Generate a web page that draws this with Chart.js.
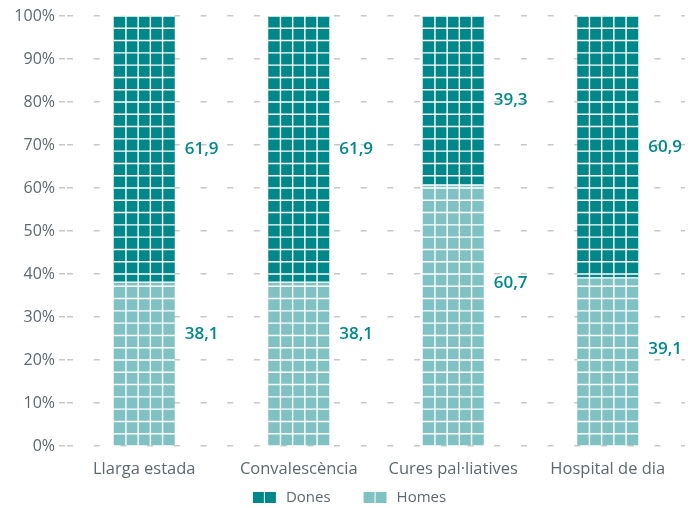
<!DOCTYPE html>
<html>
<head>
<meta charset="utf-8">
<script src="https://cdn.jsdelivr.net/npm/chart.js@4.4.1/dist/chart.umd.min.js"></script>
<style>
  html, body { margin: 0; padding: 0; background: #fff; }
</style>
</head>
<body>
<canvas id="myChart" width="693" height="508"></canvas>
<script>
var categories = ["Llarga estada", "Convalescència", "Cures pal·liatives", "Hospital de dia"];
var dones = [61.9, 61.9, 39.3, 60.9];
var homes = [38.1, 38.1, 60.7, 39.1];
var yTicks = [0, 10, 20, 30, 40, 50, 60, 70, 80, 90, 100];

var donesColor = '#00878a';
var homesColor = '#80c2c3';
var labelColor = '#00898b';
var greyText = '#5e686e';

// white gaps cut the bars into cells
var cellGrid = {
  id: 'cellGrid',
  afterDatasetsDraw: function(chart) {
    var ctx = chart.ctx;
    var y = chart.scales.y;
    var step = (y.bottom - y.top) / 35;
    ctx.save();
    ctx.strokeStyle = '#fff';
    ctx.lineWidth = 1.4;
    chart.data.datasets.forEach(function(ds, di) {
      chart.getDatasetMeta(di).data.forEach(function(bar) {
        var left = bar.x - bar.width / 2;
        var top = Math.min(bar.y, bar.base), bottom = Math.max(bar.y, bar.base);
        ctx.beginPath();
        for (var k = 1; k < 5; k++) {
          var xx = left + k * bar.width / 5;
          ctx.moveTo(xx, top);
          ctx.lineTo(xx, bottom);
        }
        for (var r = 1; r < 35; r++) {
          var yy = y.bottom - r * step;
          if (yy > top && yy < bottom) {
            ctx.moveTo(left, yy);
            ctx.lineTo(left + bar.width, yy);
          }
        }
        ctx.moveTo(left, top);
        ctx.lineTo(left + bar.width, top);
        ctx.stroke();
      });
    });
    ctx.restore();
  }
};

// value labels right of each segment
var valueLabels = {
  id: 'valueLabels',
  afterDatasetsDraw: function(chart, args, opts) {
    var ctx = chart.ctx;
    ctx.save();
    ctx.fillStyle = labelColor;
    ctx.font = '600 17px "Open Sans", sans-serif';
    ctx.textBaseline = 'middle';
    chart.data.datasets.forEach(function(ds, di) {
      chart.getDatasetMeta(di).data.forEach(function(bar, i) {
        var shift = ds.label === 'Homes' ? opts.homesShift[i] : 0;
        var txt = ds.data[i].toFixed(1).replace('.', ',');
        ctx.fillText(txt, bar.x + bar.width / 2 + 10, (bar.y + bar.base) / 2 + shift);
      });
    });
    ctx.restore();
  }
};

// legend with two-square swatches, Dones first
var squareLegend = {
  id: 'squareLegend',
  afterDraw: function(chart, args, opts) {
    var ctx = chart.ctx;
    var items = [chart.data.datasets[1], chart.data.datasets[0]];
    ctx.save();
    ctx.font = '15px "Open Sans", sans-serif';
    ctx.textBaseline = 'middle';
    var widths = items.map(function(ds) { return 23 + 10 + ctx.measureText(ds.label).width; });
    var total = widths[0] + widths[1] + 33;
    var x = chart.width / 2 + 3 - total / 2;
    var yMid = opts.y;
    items.forEach(function(ds, i) {
      ctx.fillStyle = ds.backgroundColor;
      ctx.fillRect(x, yMid - 6, 11, 11);
      ctx.fillRect(x + 12, yMid - 6, 11, 11);
      ctx.fillStyle = greyText;
      ctx.fillText(ds.label, x + 33, yMid);
      x += widths[i] + 33;
    });
    ctx.restore();
  }
};

var ctx = document.getElementById('myChart').getContext('2d');
var myChart = new Chart(ctx, {
  type: 'bar',
  data: {
    labels: categories,
    datasets: [
      { label: 'Homes', data: homes, backgroundColor: homesColor, borderWidth: 0 },
      { label: 'Dones', data: dones, backgroundColor: donesColor, borderWidth: 0 }
    ]
  },
  options: {
    responsive: false,
    animation: false,
    devicePixelRatio: 1,
    layout: { padding: { top: 16, right: 8, left: 0, bottom: 22 } },
    categoryPercentage: 1,
    barPercentage: 0.395,
    scales: {
      x: {
        stacked: true,
        grid: { display: false, drawTicks: false },
        border: { display: false },
        ticks: { color: greyText, font: { family: 'Open Sans', size: 16.5 }, padding: 13 },
        afterFit: function(s) { s.height = 40; }
      },
      y: {
        stacked: true,
        min: 0, max: 100,
        afterBuildTicks: function(s) { s.ticks = yTicks.map(function(v) { return { value: v }; }); },
        grid: {
          color: '#c8c8c8',
          lineWidth: 1.5,
          tickLength: 8,
          tickBorderDash: [6, 21],
          tickColor: '#c8c8c8'
        },
        border: { display: false, dash: [6, 20.7] },
        ticks: {
          color: greyText,
          font: { family: 'Open Sans', size: 16 },
          padding: 4,
          callback: function(v) { return v + '%'; }
        },
        afterFit: function(s) { s.width = 67; }
      }
    },
    plugins: {
      legend: { display: false },
      tooltip: { enabled: false },
      valueLabels: { homesShift: [-30, -30, -32, -12] },
      squareLegend: { y: 498 }
    }
  },
  plugins: [cellGrid, valueLabels, squareLegend]
});
</script>
</body>
</html>
